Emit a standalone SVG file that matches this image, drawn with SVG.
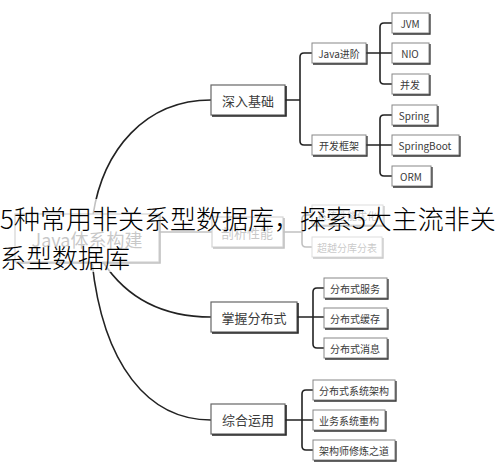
<svg xmlns="http://www.w3.org/2000/svg" width="502" height="465" viewBox="0 0 502 465">
<style>
.bg{fill:#fff}
.b{fill:#fff;stroke:#888;stroke-width:1}
.sh{fill:none;stroke:#333;stroke-width:1.3}
.mb{fill:#fff;stroke:#666;stroke-width:1.2}
.msh{fill:none;stroke:#222;stroke-width:1.6}
.t{font-family:"Noto Sans CJK SC","Noto Sans",sans-serif;fill:#3a3a3a;text-anchor:middle;dominant-baseline:central}
.s{font-size:10px}
.m{font-size:13px}
.c{fill:none;stroke:#222;stroke-width:1.6}
.title{font-family:"Noto Sans CJK SC","Noto Sans",sans-serif;font-size:26px;font-weight:300;fill:#000}
</style>
<rect class="bg" x="0" y="0" width="502" height="465"/>
<g id="connectors">
<path class="c" d="M93,215 C103,150 145,100 211,100"/>
<path class="c" d="M103,262 C130,303 170,317 211,317"/>
<path class="c" d="M92,262 C103,365 148,420 211,420"/>
<path class="c" d="M159,232 H212"/>
<path class="c" d="M285,100 H300 M304,53 H312 M304,53 Q300,53 300,57 V141 Q300,145 304,145 H312"/>
<path class="c" d="M366,53 H392 M384,23 H392 M384,23 Q380,23 380,27 V80 Q380,84 384,84 H392"/>
<path class="c" d="M366,145 H392 M384,115 H392 M384,115 Q380,115 380,119 V172 Q380,176 384,176 H392"/>
<path class="c" d="M283,232 H302 M306,215 H312 M306,215 Q302,215 302,219 V243 Q302,247 306,247 H312"/>
<path class="c" d="M297,317 H324 M317,288 H324 M317,288 Q313,288 313,292 V344 Q313,348 317,348 H324"/>
<path class="c" d="M285,420 H313 M306,390 H313 M306,390 Q302,390 302,394 V446 Q302,450 306,450 H313"/>
</g>
<g id="root"><rect class="mb" x="15" y="214" width="144" height="48"/><path class="msh" d="M160,215 V263 H16"/><text class="t" x="87" y="239" font-size="18" fill="#444">Java体系构建</text></g>
<g id="n1"><rect class="mb" x="211" y="85" width="74" height="30"/><path class="msh" d="M286,86 V116 H212"/><text class="t m" x="248" y="100">深入基础</text></g>
<g id="n11"><rect class="b" x="312" y="43" width="54" height="20"/><path class="sh" d="M367,44 V64 H313"/><text class="t s" x="339" y="53">Java进阶</text></g>
<g id="n12"><rect class="b" x="312" y="135" width="54" height="20"/><path class="sh" d="M367,136 V156 H313"/><text class="t s" x="339" y="145">开发框架</text></g>
<g id="n111"><rect class="b" x="392" y="13" width="37" height="20"/><path class="sh" d="M430,14 V34 H393"/><text class="t s" x="410" y="23">JVM</text></g>
<g id="n112"><rect class="b" x="392" y="43" width="37" height="20"/><path class="sh" d="M430,44 V64 H393"/><text class="t s" x="410" y="53">NIO</text></g>
<g id="n113"><rect class="b" x="392" y="74" width="37" height="20"/><path class="sh" d="M430,75 V95 H393"/><text class="t s" x="410" y="84">并发</text></g>
<g id="n121"><rect class="b" x="392" y="105" width="45" height="20"/><path class="sh" d="M438,106 V126 H393"/><text class="t s" x="414" y="115">Spring</text></g>
<g id="n122"><rect class="b" x="392" y="135" width="67" height="20"/><path class="sh" d="M460,136 V156 H393"/><text class="t s" x="425" y="145">SpringBoot</text></g>
<g id="n123"><rect class="b" x="392" y="166" width="39" height="20"/><path class="sh" d="M432,167 V187 H393"/><text class="t s" x="411" y="176">ORM</text></g>
<g id="n2"><rect class="mb" x="212" y="217" width="71" height="30"/><path class="msh" d="M284,218 V248 H213"/><text class="t m" x="247" y="232">剖析性能</text></g>
<g id="n21"><rect class="b" x="312" y="205" width="71" height="20"/><path class="sh" d="M384,206 V226 H313"/><text class="t s" x="347" y="215">系统性能优化</text></g>
<g id="n22"><rect class="b" x="312" y="237" width="70" height="20"/><path class="sh" d="M383,238 V258 H313"/><text class="t s" x="347" y="247">超越分库分表</text></g>
<g id="n3"><rect class="mb" x="211" y="302" width="86" height="30"/><path class="msh" d="M298,303 V333 H212"/><text class="t m" x="254" y="317">掌握分布式</text></g>
<g id="n31"><rect class="b" x="324" y="278" width="63" height="20"/><path class="sh" d="M388,279 V299 H325"/><text class="t s" x="355" y="288">分布式服务</text></g>
<g id="n32"><rect class="b" x="324" y="308" width="63" height="20"/><path class="sh" d="M388,309 V329 H325"/><text class="t s" x="355" y="318">分布式缓存</text></g>
<g id="n33"><rect class="b" x="324" y="338" width="63" height="20"/><path class="sh" d="M388,339 V359 H325"/><text class="t s" x="355" y="348">分布式消息</text></g>
<g id="n4"><rect class="mb" x="211" y="404" width="74" height="30"/><path class="msh" d="M286,405 V435 H212"/><text class="t m" x="248" y="419">综合运用</text></g>
<g id="n41"><rect class="b" x="313" y="380" width="82" height="20"/><path class="sh" d="M396,381 V401 H314"/><text class="t s" x="354" y="390">分布式系统架构</text></g>
<g id="n42"><rect class="b" x="313" y="410" width="72" height="20"/><path class="sh" d="M386,411 V431 H314"/><text class="t s" x="349" y="420">业务系统重构</text></g>
<g id="n43"><rect class="b" x="313" y="440" width="82" height="20"/><path class="sh" d="M396,441 V461 H314"/><text class="t s" x="354" y="450">架构师修炼之道</text></g>
<rect x="0" y="199" width="502" height="73" fill="#fff" opacity="0.72"/>
<g id="title">
<text class="title" x="0" y="229">5种常用非关系型数据库，探索5大主流非关</text>
<text class="title" x="0" y="268">系型数据库</text>
</g>
</svg>
